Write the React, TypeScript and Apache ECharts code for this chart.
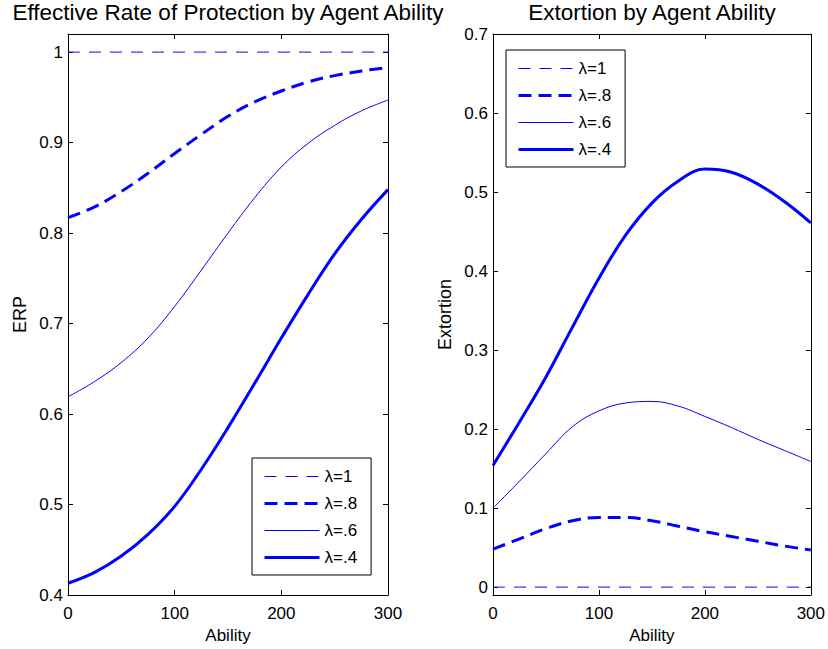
import React, { useEffect, useRef } from "react";
import * as echarts from "echarts";

const abilities = [0, 25, 50, 75, 100, 125, 150, 175, 200, 225, 250, 275, 300];
const legendNames = ["λ=1", "λ=.8", "λ=.6", "λ=.4"];

// Effective Rate of Protection (left panel)
const erpL1 = [1, 1, 1, 1, 1, 1, 1, 1, 1, 1, 1, 1, 1];
const erpL08 = [0.817, 0.829, 0.846, 0.866, 0.888, 0.909, 0.929, 0.945, 0.957, 0.967, 0.974, 0.979, 0.983];
const erpL06 = [0.619, 0.636, 0.657, 0.684, 0.719, 0.759, 0.800, 0.839, 0.873, 0.899, 0.919, 0.935, 0.947];
const erpL04 = [0.413, 0.425, 0.443, 0.467, 0.498, 0.539, 0.585, 0.634, 0.684, 0.732, 0.777, 0.815, 0.848];

// Extortion (right panel)
const extL1 = [0, 0, 0, 0, 0, 0, 0, 0, 0, 0, 0, 0, 0];
const extL08 = [0.048, 0.061, 0.074, 0.084, 0.088, 0.088, 0.084, 0.077, 0.070, 0.064, 0.058, 0.052, 0.047];
const extL06 = [0.100, 0.134, 0.169, 0.203, 0.223, 0.233, 0.235, 0.229, 0.216, 0.202, 0.187, 0.173, 0.159];
const extL04 = [0.154, 0.209, 0.266, 0.329, 0.391, 0.445, 0.486, 0.514, 0.529, 0.525, 0.510, 0.488, 0.461];

const FONT = "'Liberation Sans', Arial, Helvetica, sans-serif";
const BLUE = "#0000ff";

const styles = [
  { width: 1, type: [12, 9] as number[] | string },
  { width: 3, type: [13, 7] as number[] | string },
  { width: 1, type: "solid" as number[] | string },
  { width: 3, type: "solid" as number[] | string },
];

function pairs(vals: number[]) {
  return abilities.map((a, i) => [a, vals[i]]);
}

function xAxes(gridIndex: number) {
  const common = {
    type: "value" as const,
    gridIndex,
    min: 0,
    max: 300,
    interval: 100,
    splitLine: { show: false },
    axisLine: { onZero: false, lineStyle: { color: "#000", width: 1 } },
    axisTick: { inside: true, length: 5, lineStyle: { color: "#000" } },
  };
  return [
    {
      ...common,
      position: "bottom",
      name: "Ability",
      nameLocation: "middle",
      nameGap: 29,
      nameTextStyle: { fontFamily: FONT, fontSize: 17, color: "#000" },
      axisLabel: { fontFamily: FONT, fontSize: 17, color: "#000", margin: 10 },
    },
    {
      ...common,
      position: "top",
      axisLabel: { show: false },
    },
  ];
}

function yAxes(gridIndex: number, min: number, max: number, name: string, showMax: boolean) {
  const common = {
    type: "value" as const,
    gridIndex,
    min,
    max,
    minInterval: 0.1,
    maxInterval: 0.1,
    splitNumber: 7,
    splitLine: { show: false },
    axisLine: { onZero: false, lineStyle: { color: "#000", width: 1 } },
    axisTick: { inside: true, length: 5, lineStyle: { color: "#000" } },
  };
  return [
    {
      ...common,
      position: "left",
      name,
      nameLocation: "middle",
      nameGap: 39,
      nameTextStyle: { fontFamily: FONT, fontSize: 18, color: "#000" },
      axisLabel: {
        fontFamily: FONT,
        fontSize: 17,
        color: "#000",
        margin: 5,
        showMinLabel: min >= 0,
        showMaxLabel: showMax,
        formatter: (v: number) => String(Math.round(v * 100) / 100),
      },
    },
    {
      ...common,
      position: "right",
      axisLabel: { show: false },
    },
  ];
}

function seriesFor(sets: number[][], axisIndex: number) {
  return sets.map((vals, i) => ({
    type: "line",
    name: legendNames[i],
    xAxisIndex: axisIndex,
    yAxisIndex: axisIndex,
    data: pairs(vals),
    showSymbol: false,
    symbol: "none",
    smooth: 0.4,
    lineStyle: { color: BLUE, width: styles[i].width, type: styles[i].type },
    itemStyle: { color: BLUE },
  }));
}

function legendAt(left: number, top: number) {
  return {
    orient: "vertical",
    left,
    top,
    padding: [10, 14, 9, 11],
    itemWidth: 55,
    itemHeight: 17,
    itemGap: 10,
    borderColor: "#000",
    borderWidth: 1,
    backgroundColor: "#fff",
    selectedMode: false,
    textStyle: { fontFamily: FONT, fontSize: 17, color: "#000" },
    data: legendNames.map((n, i) => ({
      name: n,
      itemStyle: { opacity: 0, borderWidth: 0 },
      lineStyle: { color: BLUE, width: styles[i].width, type: styles[i].type },
    })),
  };
}

export default function App() {
  const ref = useRef<HTMLDivElement>(null);
  useEffect(() => {
    if (!ref.current) return;
    const chart = echarts.init(ref.current, undefined, { renderer: "svg" });
    const leftX = xAxes(0);
    const rightX = xAxes(1);
    const leftY = yAxes(0, 0.4, 1.02, "ERP", false);
    const rightY = yAxes(1, -0.01, 0.7, "Extortion", true);
    chart.setOption({
      animation: false,
      backgroundColor: "#fff",
      textStyle: { fontFamily: FONT },
      grid: [
        { left: 68, right: 440, top: 34, bottom: 54, containLabel: false },
        { left: 493, right: 16, top: 34, bottom: 54, containLabel: false },
      ],
      xAxis: [...leftX, ...rightX],
      yAxis: [...leftY, ...rightY],
      legend: [legendAt(252, 458), legendAt(506, 50)],
      graphic: [
        {
          type: "text",
          x: 228,
          y: 12.5,
          style: {
            text: "Effective Rate of Protection by Agent Ability",
            font: `22.5px ${FONT}`,
            fill: "#000",
            textAlign: "center",
            textVerticalAlign: "middle",
          },
        },
        {
          type: "text",
          x: 652,
          y: 12.5,
          style: {
            text: "Extortion by Agent Ability",
            font: `22.5px ${FONT}`,
            fill: "#000",
            textAlign: "center",
            textVerticalAlign: "middle",
          },
        },
      ],
      series: [
        ...seriesFor([erpL1, erpL08, erpL06, erpL04], 0),
        ...seriesFor([extL1, extL08, extL06, extL04], 2),
      ],
    });
    return () => chart.dispose();
  }, []);
  return (
    <div
      ref={ref}
      style={{ position: "fixed", left: 0, top: 0, width: 828, height: 649, background: "#fff" }}
    />
  );
}
